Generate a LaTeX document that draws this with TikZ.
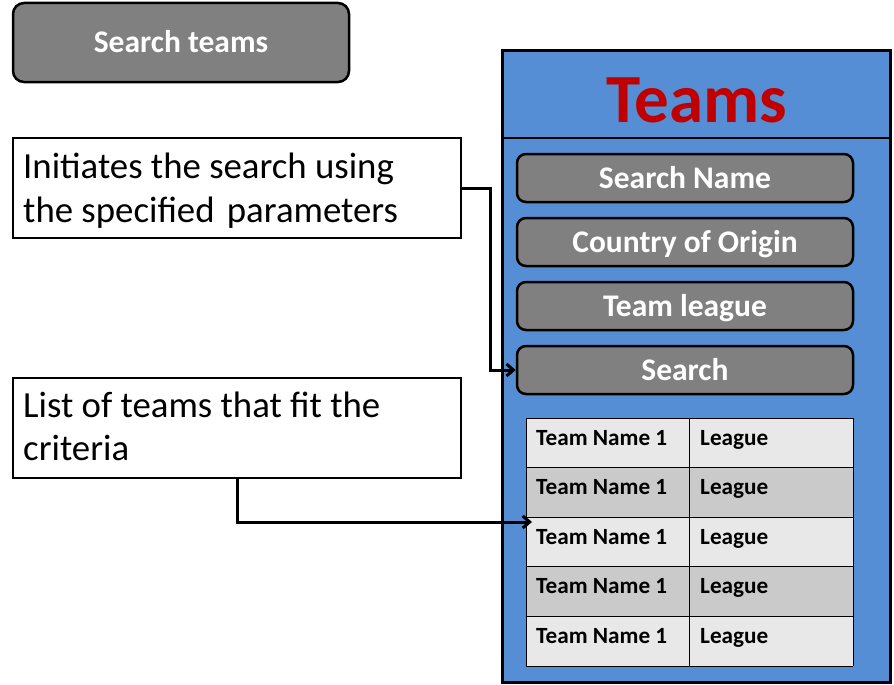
\documentclass[tikz,border=0pt]{standalone}
\usepackage{fontspec}
\setmainfont{Carlito}
\usetikzlibrary{arrows.meta}
\definecolor{panelblue}{HTML}{558ED5}
\definecolor{btngray}{HTML}{808080}
\definecolor{titlered}{HTML}{C00000}
\definecolor{rowlight}{HTML}{E8E8E8}
\definecolor{rowdark}{HTML}{CACACA}
\tikzset{
  btn/.style={draw=black, line width=2.5pt, fill=btngray, rounded corners=9pt,
    minimum width=336pt, minimum height=48pt, inner sep=0pt,
    text height=26pt, text depth=6pt, text=white,
    font=\fontsize{31.5}{36}\selectfont\bfseries},
  callout/.style={draw=black, line width=2pt, fill=white,
    minimum width=448pt, minimum height=100pt, inner sep=0pt},
  callouttext/.style={anchor=base west, inner sep=0pt,
    font=\fontsize{36.8}{44}\selectfont},
  celltext/.style={anchor=base west, inner sep=0pt,
    font=\fontsize{23.2}{26}\selectfont\bfseries},
  conn/.style={draw=black, line width=3pt, -{Straight Barb[length=7pt,width=12pt]}},
}
\begin{document}
\begin{tikzpicture}[x=1pt,y=-1pt]
\useasboundingbox (0,0) rectangle (894,685);

% top-left button
\node[btn, minimum width=336pt, minimum height=79pt, rounded corners=11pt] (searchteams) at (181,42.5) {Search teams};

% panel
\node[draw=black, line width=3pt, fill=panelblue, minimum width=388pt, minimum height=631.5pt, inner sep=0pt] (panel) at (696,366.25) {};
\coordinate (divL) at (502,138);
\coordinate (divR) at (890,138);
\draw[line width=2.5pt] (divL) -- (divR);

% title
\node[anchor=base, inner sep=0pt, text=titlered, font=\fontsize{69}{80}\selectfont\bfseries] (title) at (696.5,122) {Teams};

% buttons
\node[btn] (bname) at (685,178) {Search Name};
\node[btn] (bcountry) at (685,242) {Country of Origin};
\node[btn] (bleague) at (685,306) {Team league};
\node[btn] (bsearch) at (685,370) {Search};

% table
\foreach \i/\c in {0/rowlight,1/rowdark,2/rowlight,3/rowdark,4/rowlight}{
  \pgfmathsetmacro{\top}{418+49.6*\i}
  \pgfmathsetmacro{\bot}{418+49.6*(\i+1)}
  \pgfmathsetmacro{\base}{445+49.6*\i}
  \fill[\c] (526,\top) rectangle (853,\bot);
  \node[celltext] (tn\i) at (536,\base) {Team Name 1};
  \node[celltext] (lg\i) at (700,\base) {League};
}
\foreach \i in {0,...,5}{
  \pgfmathsetmacro{\yy}{418+49.6*\i}
  \draw[line width=1pt] (526,\yy) -- (853,\yy);
}
\draw[line width=1pt] (526,418) -- (526,666);
\draw[line width=1pt] (689,418) -- (689,666);
\draw[line width=1pt] (853,418) -- (853,666);

% callouts
\node[callout] (box1) at (237,188) {};
\node[callouttext] (t1a) at (23,178) {Initiates the search using};
\node[callouttext] (t1b) at (23,222) {the specified\hspace{4pt} parameters};

\node[callout] (box2) at (237,428) {};
\node[callouttext] (t2a) at (23,417) {List of teams that fit the};
\node[callouttext] (t2b) at (23,460) {criteria};

% connectors
\coordinate (tablein) at (532,522);
\draw[conn] (box1.east) -- ++(28,0) |- (bsearch.west);
\draw[conn] (box2.south) |- (tablein);
\end{tikzpicture}
\end{document}
